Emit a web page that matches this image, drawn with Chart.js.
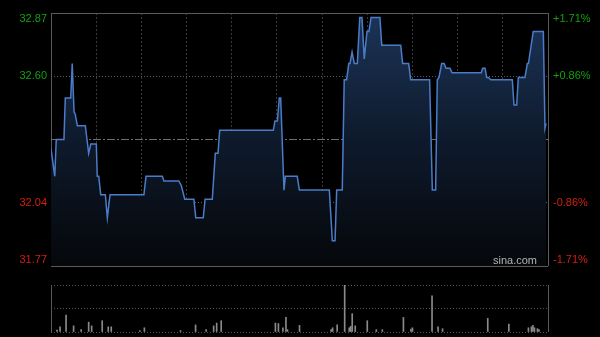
<!DOCTYPE html>
<html>
<head>
<meta charset="utf-8">
<script src="https://cdn.jsdelivr.net/npm/chart.js@4.4.1/dist/chart.umd.min.js"></script>
<style>
	body { margin: 0; background: #000; }
	#wrap { position: relative; width: 600px; height: 337px; background: #000; overflow: hidden; }
	#priceChart { position: absolute; left: 0; top: 0; }
	#volChart { position: absolute; left: 0; top: 272px; }
</style>
</head>
<body>
<div id="wrap">
	<canvas id="priceChart" width="600" height="272"></canvas>
	<canvas id="volChart" width="600" height="65"></canvas>
</div>
<script>
// minutes from the open (0 - 330)
var priceMinutes = [0, 2.5, 3.5, 8.6, 9.5, 13.1, 14.1, 15.3, 16.1, 17.5, 22.8, 25.0, 26.4, 30.1, 30.7, 31.7, 33.0, 36.1, 37.4, 39.2,
	61.7, 63.1, 73.9, 75.0, 84.8, 86.5, 88.8, 94.9, 96.1, 101.1, 102.3, 107.1, 109.1, 110.9, 112.0, 147.6, 148.7, 150.3, 151.6, 152.5,
	154.7, 155.6, 163.5, 164.9, 184.8, 186.8, 188.6, 189.7, 193.4, 194.7, 196.3, 197.7, 198.5, 199.9, 201.4, 203.4, 205.0, 206.5, 208.0, 209.8,
	211.1, 212.5, 218.4, 219.6, 232.2, 233.5, 237.5, 238.8, 251.4, 253.2, 255.4, 256.5, 257.6, 259.4, 261.0, 262.3, 264.9, 266.3, 285.7, 286.6,
	288.2, 289.3, 290.4, 292.0, 306.3, 307.4, 309.2, 310.3, 314.7, 316.3, 317.0, 320.2, 326.9, 328.0, 328.7];
var prices = [32.28, 32.16, 32.32, 32.32, 32.50, 32.50, 32.65, 32.44, 32.43, 32.38, 32.38, 32.26, 32.30, 32.30, 32.16, 32.16, 32.08, 32.08, 31.98, 32.08,
	32.08, 32.16, 32.16, 32.14, 32.14, 32.12, 32.06, 32.06, 31.98, 31.98, 32.06, 32.06, 32.26, 32.26, 32.36, 32.36, 32.40, 32.40, 32.50, 32.50,
	32.10, 32.16, 32.16, 32.10, 32.10, 31.88, 31.88, 32.10, 32.10, 32.58, 32.58, 32.65, 32.65, 32.70, 32.65, 32.65, 32.85, 32.85, 32.67, 32.79,
	32.79, 32.85, 32.85, 32.73, 32.73, 32.65, 32.65, 32.58, 32.58, 32.10, 32.10, 32.58, 32.59, 32.65, 32.65, 32.63, 32.63, 32.61, 32.61, 32.63,
	32.63, 32.59, 32.59, 32.58, 32.58, 32.47, 32.47, 32.59, 32.59, 32.65, 32.65, 32.79, 32.79, 32.37, 32.39];

var volMinutes = [4, 6, 10, 15, 20, 25, 27, 34, 38, 40, 59, 62, 86, 96, 103, 108, 110, 113, 149, 151, 154, 156, 157, 165,
	186, 187, 190, 195, 198, 199, 200, 202, 210, 216, 220, 234, 239, 240, 253, 257, 260, 290, 304, 317, 319, 320, 321, 323, 324];
var volumes = [4, 11, 36, 13, 5, 21, 13, 24, 11, 11, 3, 9, 3, 15, 5, 13, 19, 24, 19, 18, 9, 31, 5, 14,
	5, 9, 15, 100, 9, 12, 39, 13, 24, 5, 5, 31, 6, 9, 77, 11, 7, 29, 17, 9, 11, 14, 9, 7, 5];

var prevClose = 32.32;
var yTicks = [31.77, 32.045, 32.32, 32.595, 32.87];
var priceLabels = ['31.77', '32.04', '32.32', '32.60', '32.87'];
var pctLabels = ['-1.71%', '-0.86%', '0.00%', '+0.86%', '+1.71%'];

var upColor = '#12a012';
var downColor = '#d2200c';
var font = '11px "Liberation Sans", Arial, sans-serif';

let pricePoints = [];
for (i = 0; i < priceMinutes.length; i++) {
	pricePoints.push({ x: priceMinutes[i], y: prices[i] });
}
let volPoints = [];
for (i = 0; i < volMinutes.length; i++) {
	volPoints.push({ x: volMinutes[i], y: volumes[i] });
}

// axis labels sit inside the plot edges, like the sina chart
const axisLabels = {
	id: 'axisLabels',
	afterDraw(chart) {
		const ctx = chart.ctx;
		const a = chart.chartArea;
		const y = chart.scales.y;
		ctx.save();
		ctx.font = font;
		ctx.textBaseline = 'middle';
		y.ticks.forEach(function(t, i) {
			if (t.value === prevClose) return;
			let py = y.getPixelForValue(t.value);
			py = Math.min(Math.max(py, a.top + 6), a.bottom - 6);
			ctx.fillStyle = t.value > prevClose ? upColor : downColor;
			ctx.textAlign = 'right';
			ctx.fillText(priceLabels[i], a.left - 4, py);
			ctx.textAlign = 'left';
			ctx.fillText(pctLabels[i], a.right + 5, py);
		});
		ctx.fillStyle = '#b4b4b4';
		ctx.textAlign = 'right';
		ctx.fillText('sina.com', a.right - 11, a.bottom - 5);
		ctx.restore();
	}
};

const pctx = document.getElementById('priceChart').getContext('2d');
const priceChart = new Chart(pctx, {
	type: 'line',
	data: {
		datasets: [{
			data: pricePoints,
			borderColor: '#4a7cc8',
			borderWidth: 1.5,
			pointRadius: 0,
			tension: 0,
			fill: 'start',
			backgroundColor: function(c) {
				const area = c.chart.chartArea;
				if (!area) return 'rgba(20,40,70,0.5)';
				const g = c.chart.ctx.createLinearGradient(0, area.top, 0, area.bottom);
				g.addColorStop(0, '#1c3458');
				g.addColorStop(0.5, '#0e1a2c');
				g.addColorStop(1, '#05070a');
				return g;
			}
		}]
	},
	options: {
		responsive: false,
		animation: false,
		devicePixelRatio: 1,
		layout: { padding: { left: 51, right: 52, top: 13, bottom: 6 } },
		plugins: { legend: { display: false }, tooltip: { enabled: false } },
		scales: {
			x: {
				type: 'linear', min: 0, max: 330,
				ticks: { display: false, stepSize: 30 },
				grid: {
					drawTicks: false,
					color: function(c) { return (c.index === 0 || c.index === 11) ? '#5a5a5a' : '#3a3a3a'; },
					lineWidth: 1
				},
				border: {
					display: false,
					dash: function(c) { return (c.index === 0 || c.index === 11) ? [] : [2, 2]; }
				}
			},
			y: {
				min: 31.77, max: 32.87,
				afterBuildTicks: function(scale) {
					scale.ticks = yTicks.map(function(v) { return { value: v }; });
				},
				ticks: { display: false },
				grid: {
					drawTicks: false,
					color: function(c) {
						if (c.index === 0 || c.index === 4) return '#5a5a5a';
						if (c.index === 2) return '#6e6e6e';
						return '#5c5c5c';
					}
				},
				border: {
					display: false,
					dash: function(c) {
						if (c.index === 0 || c.index === 4) return [];
						if (c.index === 2) return [8, 2, 2, 2];
						return [1, 2];
					}
				}
			}
		}
	},
	plugins: [axisLabels]
});

const vctx = document.getElementById('volChart').getContext('2d');
const volChart = new Chart(vctx, {
	type: 'bar',
	data: {
		datasets: [{
			data: volPoints,
			backgroundColor: '#8a8a8a',
			barThickness: 1
		}]
	},
	options: {
		responsive: false,
		animation: false,
		devicePixelRatio: 1,
		layout: { padding: { left: 51, right: 52, top: 13, bottom: 5 } },
		plugins: { legend: { display: false }, tooltip: { enabled: false } },
		scales: {
			x: {
				type: 'linear', min: 0, max: 330, offset: false,
				ticks: { display: false, stepSize: 330 },
				grid: { drawTicks: false, offset: false, color: '#5a5a5a' },
				border: { display: false }
			},
			y: {
				min: 0, max: 100,
				ticks: { display: false, stepSize: 50 },
				grid: { drawTicks: false, color: '#555555' },
				border: { display: false, dash: [1, 2] }
			}
		}
	}
});
</script>
</body>
</html>
